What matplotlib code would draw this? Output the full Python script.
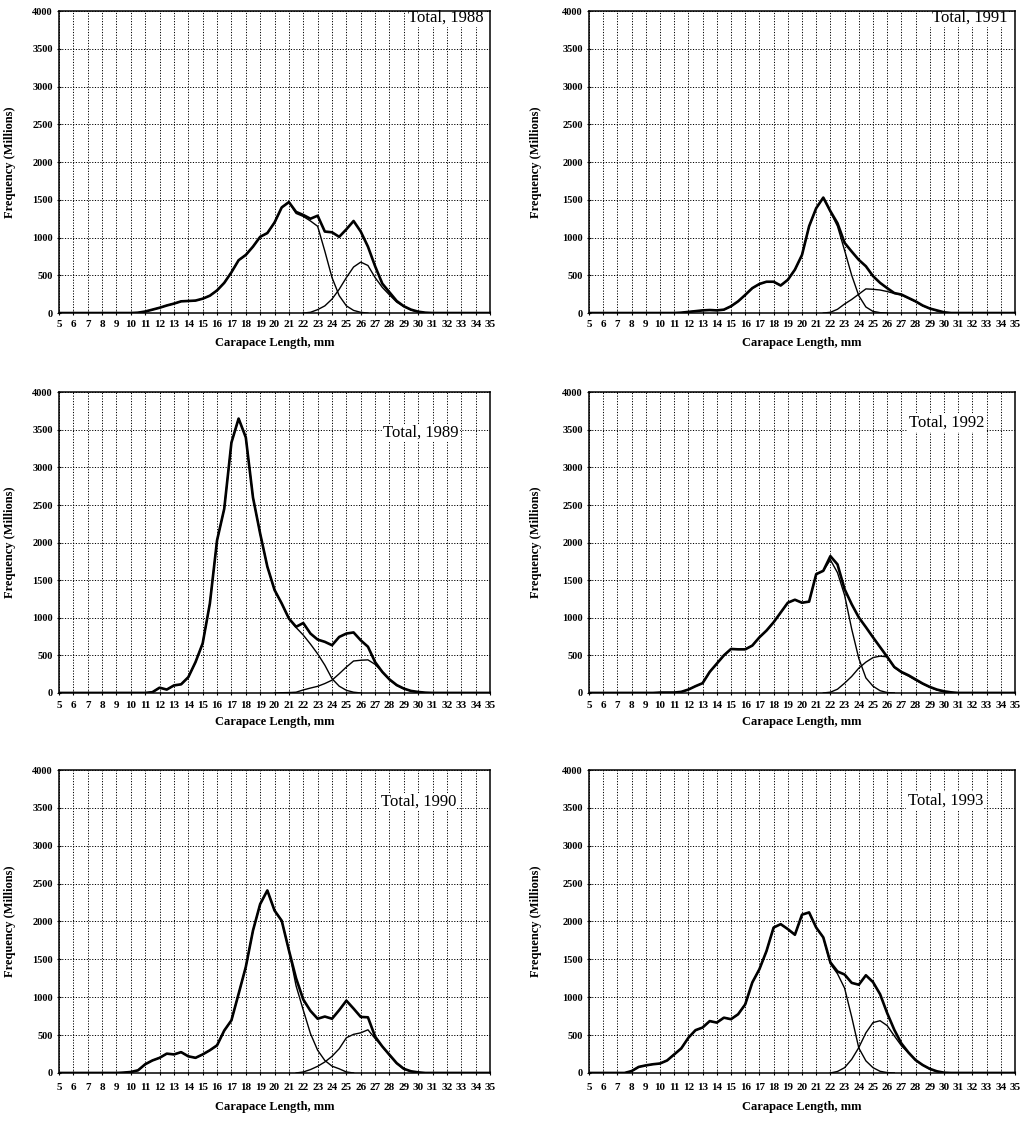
import numpy as np
import matplotlib.pyplot as plt

plt.rcParams['font.family'] = ['Liberation Serif', 'DejaVu Serif']

# length-frequency (millions) at 0.5 mm carapace-length steps
# each series: first length, then values
tot_1988_start = 10.0
tot_1988 = [0, 5, 20, 45, 70, 100, 125, 155, 160, 165, 190, 230, 300, 400, 540, 700,
            770, 880, 1010, 1060, 1200, 1400, 1470, 1340, 1300, 1250, 1290, 1080, 1070,
            1010, 1110, 1220, 1080, 880, 620, 390, 275, 160, 90, 45, 18, 5, 0]
young_1988_start = 10.0
young_1988 = [0, 5, 20, 45, 70, 100, 125, 155, 160, 165, 190, 230, 300, 400, 540, 700,
              770, 880, 1010, 1060, 1200, 1400, 1470, 1320, 1280, 1220, 1150, 820, 470,
              230, 95, 35, 9, 0]
old_1988_start = 22.0
old_1988 = [0, 10, 45, 95, 185, 315, 470, 610, 675, 630, 470, 340, 240, 145, 85, 40,
            15, 3, 0]

tot_1991_start = 11.0
tot_1991 = [0, 5, 15, 25, 35, 40, 35, 45, 90, 155, 240, 330, 385, 415, 415, 365, 440,
            575, 770, 1150, 1390, 1530, 1350, 1190, 930, 815, 705, 620, 490, 400, 330,
            265, 245, 200, 155, 100, 60, 35, 10, 0]
young_1991_start = 11.0
young_1991 = [0, 5, 15, 25, 35, 40, 35, 45, 90, 155, 240, 330, 385, 415, 415, 365, 440,
              575, 770, 1150, 1390, 1530, 1340, 1150, 830, 500, 230, 80, 22, 5, 0]
old_1991_start = 21.5
old_1991 = [0, 10, 50, 120, 180, 250, 320, 315, 305, 285, 260, 240, 195, 150, 95, 60,
            30, 8, 0]

tot_1989_start = 11.0
tot_1989 = [0, 10, 70, 45, 100, 115, 210, 410, 660, 1190, 2030, 2450, 3330, 3650, 3400,
            2600, 2120, 1680, 1370, 1190, 990, 880, 930, 790, 710, 680, 635, 745, 790,
            805, 700, 615, 410, 280, 180, 105, 58, 27, 13, 4, 0]
young_1989_start = 11.0
young_1989 = [0, 10, 70, 45, 100, 115, 210, 410, 660, 1190, 2030, 2450, 3330, 3650, 3400,
              2600, 2120, 1680, 1370, 1190, 990, 870, 770, 650, 520, 370, 190, 90, 35,
              10, 0]
old_1989_start = 20.0
old_1989 = [0, 3, 5, 10, 40, 65, 88, 125, 170, 255, 345, 425, 435, 440, 380, 280, 175,
            100, 55, 25, 10, 0]

tot_1992_start = 9.5
tot_1992 = [0, 5, 5, 5, 15, 45, 90, 130, 280, 390, 500, 585, 580, 580, 630, 740, 830,
            940, 1070, 1200, 1240, 1200, 1215, 1580, 1625, 1820, 1710, 1380, 1180, 1005,
            875, 740, 610, 480, 345, 280, 235, 180, 125, 80, 45, 22, 8, 0]
young_1992_start = 9.5
young_1992 = [0, 5, 5, 5, 15, 45, 90, 130, 280, 390, 500, 585, 580, 580, 630, 740, 830,
              940, 1070, 1200, 1240, 1200, 1215, 1580, 1625, 1770, 1600, 1300, 850, 460,
              200, 90, 30, 5, 0]
old_1992_start = 21.5
old_1992 = [0, 10, 50, 130, 220, 330, 410, 470, 490, 480, 340, 270, 225, 170, 120, 75,
            40, 18, 5, 0]

tot_1990_start = 9.0
tot_1990 = [0, 5, 13, 35, 115, 165, 200, 255, 245, 275, 220, 200, 245, 300, 365, 560,
            695, 1045, 1400, 1880, 2230, 2410, 2145, 2010, 1620, 1250, 970, 820, 716,
            745, 716, 830, 955, 850, 740, 735, 480, 350, 240, 130, 55, 22, 8, 0]
young_1990_start = 9.0
young_1990 = [0, 5, 13, 35, 115, 165, 200, 255, 245, 275, 220, 200, 245, 300, 365, 560,
              695, 1045, 1400, 1880, 2230, 2410, 2145, 2010, 1620, 1150, 830, 520, 300,
              165, 90, 55, 13, 0]
old_1990_start = 21.5
old_1990 = [0, 13, 45, 88, 145, 220, 320, 465, 510, 530, 570, 455, 350, 230, 125, 50,
            20, 6, 0]

tot_1993_start = 7.5
tot_1993 = [0, 25, 80, 100, 115, 125, 165, 245, 325, 465, 565, 600, 685, 665, 730, 710,
            775, 905, 1195, 1370, 1610, 1920, 1965, 1900, 1825, 2090, 2120, 1920, 1790,
            1460, 1340, 1300, 1190, 1165, 1290, 1200, 1040, 790, 570, 390, 270, 170, 105,
            55, 22, 4, 0]
young_1993_start = 7.5
young_1993 = [0, 25, 80, 100, 115, 125, 165, 245, 325, 465, 565, 600, 685, 665, 730, 710,
              775, 905, 1195, 1370, 1610, 1920, 1965, 1900, 1825, 2090, 2120, 1920, 1790,
              1440, 1310, 1120, 740, 330, 160, 70, 22, 5, 0]
old_1993_start = 22.0
old_1993 = [0, 20, 70, 180, 335, 530, 665, 690, 625, 490, 360, 265, 170, 104, 50, 20, 4, 0]

panels = [
    (1988, tot_1988_start, tot_1988, young_1988_start, young_1988, old_1988_start, old_1988),
    (1991, tot_1991_start, tot_1991, young_1991_start, young_1991, old_1991_start, old_1991),
    (1989, tot_1989_start, tot_1989, young_1989_start, young_1989, old_1989_start, old_1989),
    (1992, tot_1992_start, tot_1992, young_1992_start, young_1992, old_1992_start, old_1992),
    (1990, tot_1990_start, tot_1990, young_1990_start, young_1990, old_1990_start, old_1990),
    (1993, tot_1993_start, tot_1993, young_1993_start, young_1993, old_1993_start, old_1993),
]

# where the "Total, year" tag sits, in data units
tag_pos = {1988: (31.9, 3910), 1991: (31.8, 3910), 1989: (30.2, 3460),
           1992: (30.2, 3600), 1990: (30.0, 3580), 1993: (30.1, 3590)}

step = 0.5
full_len = np.arange(5, 35 + step, step)


def xs(start, vals):
    return start + step * np.arange(len(vals))


def padded(start, vals):
    y = np.zeros(len(full_len))
    i0 = int(round((start - 5) / step))
    y[i0:i0 + len(vals)] = vals
    return y


fig = plt.figure(figsize=(10.24, 11.22), dpi=100)

lefts = [0.0576, 0.5752]
widths = [0.421, 0.416]
bottoms = [0.721, 0.3824, 0.0437]
heights = [0.269, 0.268, 0.270]
ylab_x = [-0.10, -0.11]
xlab_y = [-0.078, -0.078, -0.092]
tick_pad = [3.5, 4.5, 5.5]

for k, (yr, ts, tv, ys, yv, os_, ov) in enumerate(panels):
    row, col = divmod(k, 2)
    ax = fig.add_axes([lefts[col], bottoms[row], widths[col], heights[row]])

    ax.plot(full_len, padded(ts, tv), color='black', lw=1.9,
            solid_joinstyle='round', zorder=3)
    ax.plot(xs(ys, yv), yv, color='black', lw=1.0, zorder=3)
    ax.plot(xs(os_, ov), ov, color='black', lw=1.0, zorder=3)

    ax.set_xlim(5, 35)
    ax.set_ylim(0, 4000)
    ax.set_xticks(np.arange(5, 36, 1))
    ax.set_yticks(np.arange(0, 4001, 500))
    ax.grid(True, color='black', lw=0.7, linestyle=(0, (1.2, 1.6)))
    ax.set_axisbelow(True)

    for lab in ax.get_xticklabels():
        lab.set_fontweight('bold')
    for lab in ax.get_yticklabels():
        lab.set_fontweight('bold')
    ax.tick_params(axis='x', labelsize=8, direction='inout', length=3,
                   width=0.8, pad=tick_pad[row])
    ax.tick_params(axis='y', labelsize=7.5, direction='inout', length=3,
                   width=0.8, pad=3)
    for s in ax.spines.values():
        s.set_linewidth(1.1)
        s.set_zorder(5)

    ax.set_ylabel('Frequency (Millions)', fontsize=9, fontweight='bold')
    ax.yaxis.set_label_coords(ylab_x[col], 0.5)
    ax.set_xlabel('Carapace Length, mm', fontsize=9, fontweight='bold')
    ax.xaxis.set_label_coords(0.5, xlab_y[row])

    tx, ty = tag_pos[yr]
    ax.text(tx, ty, f'Total, {yr}', fontsize=12, ha='center', va='center',
            zorder=4, bbox=dict(facecolor='white', edgecolor='none', pad=1.0))

fig.savefig('out.png', dpi=100)
